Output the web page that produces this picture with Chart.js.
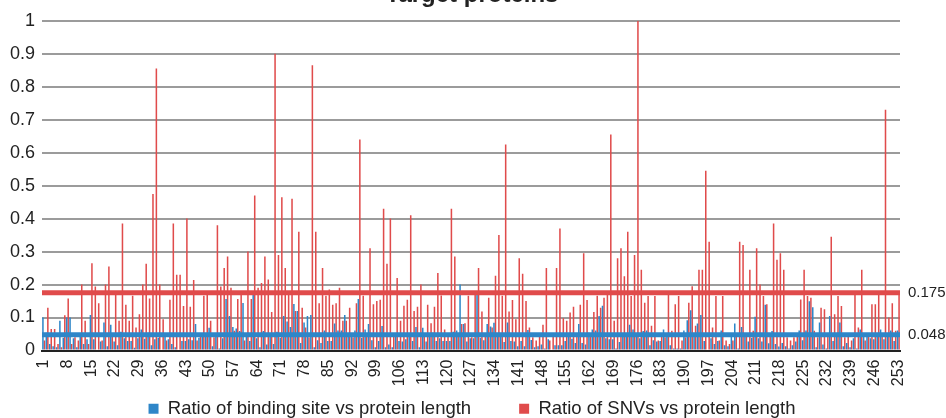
<!DOCTYPE html>
<html><head><meta charset="utf-8">
<script src="https://cdn.jsdelivr.net/npm/chart.js@4"></script>
<style>
html,body{margin:0;padding:0;background:#fff;overflow:hidden;width:946px;height:418px}
#wrap{position:absolute;left:0;top:-4px;width:946px;height:432px}
</style></head><body>
<div id="wrap"><canvas id="c"></canvas></div>
<script>
const categories = Array.from({length: 253}, (_, i) => String(i + 1));
const labelEvery = 7;
const bindingRatio = [
0.10,0.054,0.02,0.013,0.01,0.09,0.039,0.10,0.10,0.037,
0.01,0.041,0.02,0.034,0.108,0.034,0.003,0.027,0.085,0.013,
0.078,0.027,0.016,0.057,0.037,0.029,0.029,0.008,0.037,0.064,
0.036,0.054,0.016,0.034,0.039,0.003,0.047,0.034,0.02,0.01,
0.003,0.029,0.029,0.034,0.031,0.08,0.039,0.044,0.044,0.069,
0.013,0.049,0.006,0.037,0.156,0.105,0.071,0.067,0.059,0.144,
0.044,0.029,0.18,0.037,0.01,0.059,0.018,0.044,0.02,0.057,
0.039,0.105,0.088,0.071,0.141,0.12,0.023,0.085,0.105,0.108,
0.01,0.031,0.023,0.061,0.029,0.029,0.082,0.061,0.061,0.108,
0.044,0.041,0.061,0.156,0.039,0.064,0.08,0.031,0.01,0.029,
0.074,0.01,0.018,0.01,0.047,0.029,0.027,0.034,0.044,0.029,
0.071,0.01,0.069,0.027,0.044,0.054,0.029,0.037,0.029,0.029,
0.029,0.057,0.061,0.2,0.08,0.027,0.037,0.037,0.17,0.039,
0.031,0.08,0.073,0.084,0.041,0.041,0.026,0.085,0.029,0.027,
0.013,0.029,0.013,0.062,0.032,0.01,0.013,0.018,0.006,0.034,
0.003,0.016,0.016,0.016,0.029,0.041,0.036,0.023,0.08,0.023,
0.018,0.054,0.064,0.061,0.105,0.136,0.037,0.034,0.034,0.006,
0.026,0.047,0.044,0.078,0.064,0.049,0.037,0.059,0.061,0.016,
0.031,0.027,0.029,0.064,0.041,0.016,0.006,0.006,0.006,0.061,
0.092,0.122,0.041,0.082,0.108,0.029,0.003,0.037,0.02,0.029,
0.061,0.016,0.013,0.041,0.082,0.006,0.071,0.051,0.027,0.039,
0.102,0.037,0.027,0.139,0.022,0.059,0.02,0.012,0.023,0.013,
0.006,0.016,0.027,0.061,0.031,0.061,0.149,0.131,0.01,0.085,
0.018,0.006,0.105,0.029,0.044,0.085,0.013,0.023,0.01,0.037,
0.006,0.064,0.044,0.044,0.037,0.034,0.041,0.064,0.034,0.041,
0.061,0.029,0.061
];
const snvRatio = [
0.03,0.13,0.065,0.065,0.02,0.01,0.107,0.158,0.02,0.04,
0.03,0.2,0.09,0.02,0.265,0.194,0.143,0.03,0.2,0.255,
0.05,0.17,0.09,0.385,0.139,0.09,0.166,0.07,0.11,0.2,
0.263,0.158,0.475,0.855,0.2,0.095,0.03,0.154,0.385,0.23,
0.23,0.135,0.4,0.133,0.214,0.03,0.05,0.166,0.18,0.09,
0.04,0.38,0.194,0.25,0.285,0.19,0.06,0.156,0.17,0.03,
0.3,0.156,0.47,0.19,0.205,0.285,0.215,0.117,0.9,0.29,
0.465,0.25,0.17,0.46,0.12,0.36,0.13,0.07,0.04,0.865,
0.36,0.143,0.25,0.166,0.185,0.139,0.143,0.19,0.09,0.09,
0.13,0.04,0.143,0.64,0.166,0.05,0.31,0.14,0.15,0.154,
0.43,0.263,0.4,0.05,0.22,0.09,0.136,0.154,0.41,0.12,
0.133,0.2,0.05,0.139,0.083,0.133,0.235,0.167,0.064,0.05,
0.43,0.285,0.05,0.08,0.083,0.166,0.04,0.17,0.25,0.118,
0.05,0.16,0.07,0.227,0.35,0.166,0.625,0.118,0.153,0.095,
0.28,0.233,0.15,0.07,0.04,0.03,0.05,0.078,0.25,0.03,
0.05,0.25,0.37,0.098,0.09,0.115,0.133,0.05,0.139,0.295,
0.153,0.05,0.117,0.166,0.13,0.16,0.17,0.655,0.09,0.28,
0.31,0.225,0.36,0.165,0.29,1.0,0.245,0.145,0.165,0.075,
0.165,0.03,0.05,0.04,0.18,0.06,0.14,0.165,0.03,0.04,
0.145,0.195,0.075,0.245,0.245,0.545,0.33,0.07,0.165,0.03,
0.165,0.03,0.02,0.03,0.05,0.33,0.32,0.05,0.245,0.06,
0.31,0.2,0.165,0.14,0.05,0.385,0.275,0.295,0.245,0.04,
0.03,0.04,0.05,0.155,0.245,0.165,0.16,0.06,0.04,0.13,
0.125,0.05,0.345,0.11,0.165,0.135,0.04,0.05,0.03,0.18,
0.07,0.245,0.03,0.05,0.14,0.14,0.18,0.05,0.73,0.1,
0.143,0.06,0.178
];
const avgBinding = 0.048;
const avgSnv = 0.175;
const avgLabels = ['0.048', '0.175'];
const seriesNames = ['Ratio of binding site vs protein length', 'Ratio of SNVs vs protein length'];
const blue = '#2E86C8';
const red = '#E04B4B';

const avgLines = {
  id: 'avgLines',
  afterDatasetsDraw(chart) {
    const {ctx, chartArea, scales} = chart;
    const items = [[avgSnv, red, avgLabels[1]], [avgBinding, blue, avgLabels[0]]];
    ctx.save();
    items.forEach(([v, col, txt]) => {
      const y = scales.y.getPixelForValue(v);
      ctx.strokeStyle = col;
      ctx.lineWidth = 5;
      ctx.beginPath();
      ctx.moveTo(chartArea.left, y);
      ctx.lineTo(chartArea.right, y);
      ctx.stroke();
      ctx.fillStyle = '#222';
      ctx.font = '15px "Liberation Sans", Arial, sans-serif';
      ctx.textBaseline = 'middle';
      ctx.textAlign = 'left';
      ctx.fillText(txt, chartArea.right + 8, y);
    });
    ctx.restore();
  }
};

Chart.defaults.font.family = '"Liberation Sans", Arial, sans-serif';
Chart.defaults.color = '#222';

new Chart(document.getElementById('c'), {
  type: 'bar',
  data: {
    labels: categories,
    datasets: [
      {label: seriesNames[0], data: bindingRatio, backgroundColor: blue, borderWidth: 0, barPercentage: 1, categoryPercentage: 0.9},
      {label: seriesNames[1], data: snvRatio, backgroundColor: red, borderWidth: 0, barPercentage: 1, categoryPercentage: 0.9}
    ]
  },
  options: {
    responsive: true,
    maintainAspectRatio: false,
    animation: false,
    layout: {padding: {left: 0, right: 2, top: 0, bottom: 0}},
    plugins: {
      title: {display: true, text: 'Target proteins', font: {size: 24, weight: 'bold'}, color: '#222', padding: {top: -15, bottom: 11}},
      legend: {
        position: 'bottom',
        labels: {
          boxWidth: 10, boxHeight: 10, padding: 12,
          font: {size: 18.5},
          color: '#222',
          generateLabels(chart) {
            const items = Chart.defaults.plugins.legend.labels.generateLabels(chart);
            items[0].text = items[0].text + '       ';
            return items;
          }
        }
      },
      tooltip: {enabled: false}
    },
    scales: {
      x: {
        afterFit: (s) => { s.height = 37; },
        grid: {display: false, drawTicks: false},
        border: {display: true, color: '#222', width: 2},
        ticks: {
          autoSkip: false, minRotation: 90, maxRotation: 90, padding: 9,
          font: {size: 16}, color: '#222',
          callback: (v, i) => (i % labelEvery === 0 ? categories[i] : '')
        }
      },
      y: {
        min: 0, max: 1,
        afterFit: (s) => { s.width = 42; },
        grid: {color: '#9b9b9b', lineWidth: 2, drawTicks: false},
        border: {display: false},
        ticks: {stepSize: 0.1, padding: 7, font: {size: 18}, color: '#222',
          callback: (v) => String(+v.toFixed(2))}
      },
      yRight: {
        type: 'linear', position: 'right', min: 0, max: 1,
        afterFit: (s) => { s.width = 44; },
        grid: {display: false, drawTicks: false},
        border: {display: false},
        ticks: {display: false}
      }
    }
  },
  plugins: [avgLines]
});
</script>
</body></html>
